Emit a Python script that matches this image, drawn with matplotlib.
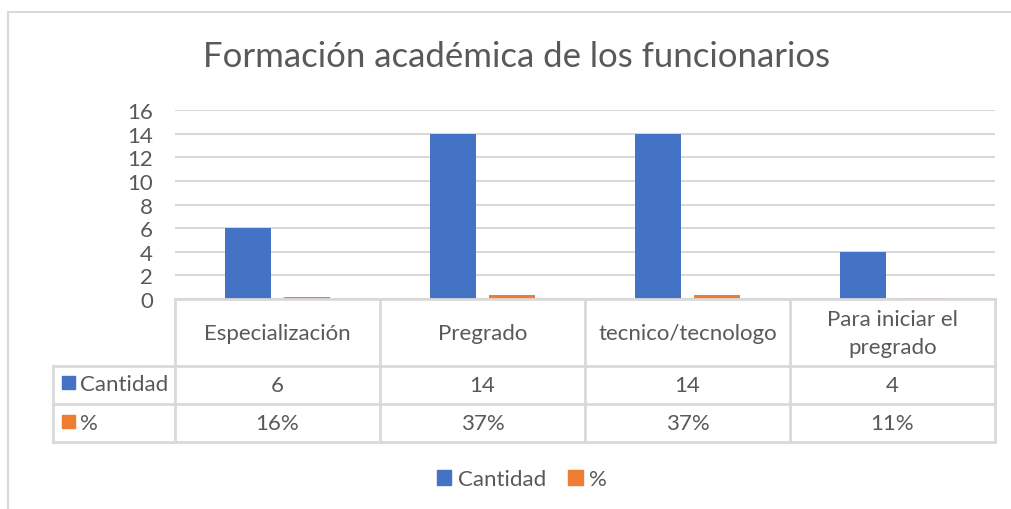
import matplotlib
matplotlib.use("Agg")
import matplotlib.pyplot as plt
import numpy as np
from matplotlib.patches import Rectangle
from matplotlib.transforms import blended_transform_factory

plt.rcParams["font.family"] = ["Lato", "DejaVu Sans"]

# --------------------------------------------------------------------------- #
# data
# --------------------------------------------------------------------------- #
categories = ["Especialización", "Pregrado", "tecnico/tecnologo",
              "Para iniciar el\npregrado"]
cantidad = [6, 14, 14, 4]
porcentaje = [0.16, 0.37, 0.37, 0.11]
series_names = ["Cantidad", "%"]
yticks = [0, 2, 4, 6, 8, 10, 12, 14, 16]

BLUE = "#4472C4"
ORANGE = "#ED7D31"
GRID = "#D9D9D9"
TEXT = "#595959"
FS = 16

W, H = 1011, 510
fig = plt.figure(figsize=(W / 100, H / 100), dpi=100)


def px_box(x0, y0, x1, y1):
    """pixel box (top-left origin) -> figure fraction [l, b, w, h]"""
    return [x0 / W, 1 - y1 / H, (x1 - x0) / W, (y1 - y0) / H]


# chart-area border (only top and left visible in the crop)
fig.add_artist(Rectangle((8 / W, -0.1), 1.2, 1 - 13 / H + 0.1,
                         transform=fig.transFigure, fill=False,
                         edgecolor=GRID, lw=1.5))

fig.text(517 / W, 1 - 57 / H, "Formación académica de los funcionarios",
         ha="center", va="center", fontsize=25, color=TEXT)

# plot area
ax = fig.add_axes(px_box(175, 111, 995, 300))
x = np.arange(len(categories))
bw = 0.224
off = 0.144
ax.bar(x - off, cantidad, bw, color=BLUE, zorder=3)
ax.bar(x + off, porcentaje, bw, color=ORANGE, zorder=3)

ax.set_xlim(-0.5, len(categories) - 0.5)
ax.set_ylim(0, 16)
ax.set_yticks(yticks)
ax.set_yticklabels([str(t) for t in yticks], fontsize=FS, color=TEXT)
ax.tick_params(axis="y", length=0, pad=16)
ax.set_xticks([])
ax.grid(axis="y", color=GRID, lw=1.5, zorder=0)
for s in ax.spines.values():
    s.set_visible(False)

# --------------------------------------------------------------------------- #
# data table under the axis
# --------------------------------------------------------------------------- #
tr = blended_transform_factory(ax.transData, ax.transAxes)
ph = 189.0  # plot height in px


def fy(py):
    return (300 - py) / ph


x_left = -0.5 + (53 - 175) / 205.0
x_right = len(categories) - 0.5
rows = [300, 367, 405, 443]

line_kw = dict(transform=tr, color=GRID, lw=2, clip_on=False, zorder=4)
ax.plot([-0.5, x_right], [fy(300)] * 2, **line_kw)
for r in rows[1:]:
    ax.plot([x_left, x_right], [fy(r)] * 2, **line_kw)
for b in np.arange(-0.5, len(categories), 1.0):
    ax.plot([b, b], [fy(300), fy(443)], **line_kw)
ax.plot([x_left, x_left], [fy(367), fy(443)], **line_kw)

for i, cat in enumerate(categories):
    ax.text(i, fy(334), cat, transform=tr, ha="center", va="center",
            fontsize=FS, color=TEXT, linespacing=1.55)
    ax.text(i, fy(386), str(cantidad[i]), transform=tr, ha="center",
            va="center", fontsize=FS, color=TEXT)
    ax.text(i, fy(424), f"{porcentaje[i]:.0%}", transform=tr, ha="center",
            va="center", fontsize=FS, color=TEXT)

for name, color, yc in zip(series_names, [BLUE, ORANGE], [384, 423]):
    fig.add_artist(Rectangle((62 / W, 1 - (yc + 6) / H), 13 / W, 13 / H,
                             transform=fig.transFigure, color=color))
    fig.text(80 / W, 1 - (yc + 1) / H, name, ha="left", va="center",
             fontsize=FS, color=TEXT)

# legend
handles = [Rectangle((0, 0), 1, 1, color=c) for c in (BLUE, ORANGE)]
fig.legend(handles, series_names, loc="center", bbox_to_anchor=(522 / W, 1 - 480 / H),
           ncol=2, frameon=False, fontsize=FS, handlelength=0.65,
           handleheight=0.65, handletextpad=0.3, columnspacing=1.0,
           labelcolor=TEXT)

fig.savefig("out.png", dpi=100)
